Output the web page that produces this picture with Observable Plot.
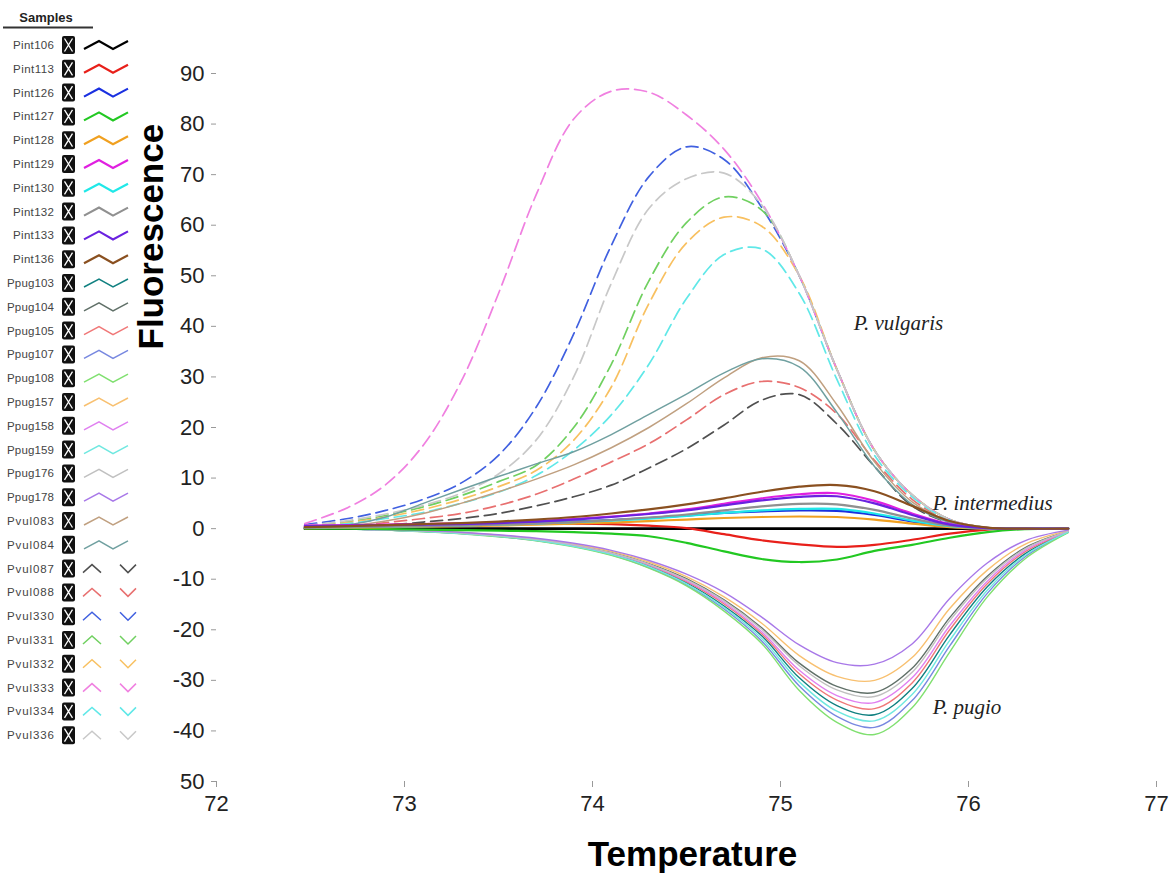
<!DOCTYPE html>
<html><head><meta charset="utf-8">
<script src="https://cdn.jsdelivr.net/npm/d3@7"></script>
<script src="https://cdn.jsdelivr.net/npm/@observablehq/plot@0.6"></script>
<style>
body{margin:0;background:#fff;}
#wrap{position:relative;width:1175px;height:874px;overflow:hidden;background:#fff;}
#legend{position:absolute;left:0;top:0;}
</style></head><body><div id="wrap"></div>
<script>
const temps = [72.47,72.7,72.9,73.1,73.3,73.5,73.7,73.9,74.1,74.3,74.5,74.7,74.9,75.1,75.3,75.5,75.7,75.9,76.1,76.3,76.53];

const samples = ["Pint106","Pint113","Pint126","Pint127","Pint128","Pint129","Pint130","Pint132","Pint133","Pint136",
  "Ppug103","Ppug104","Ppug105","Ppug107","Ppug108","Ppug157","Ppug158","Ppug159","Ppug176","Ppug178",
  "Pvul083","Pvul084","Pvul087","Pvul088","Pvul330","Pvul331","Pvul332","Pvul333","Pvul334","Pvul336"];
const colors = ["#000000","#e8201a","#1a30e0","#22c822","#f0a020","#e020e0","#20e8e8","#909090","#6a22e0","#8a5020",
  "#108080","#607068","#f07878","#7888e0","#80e070","#f8c070","#e080f0","#70e8e0","#c0c0c0","#a878e8",
  "#c0a080","#70a0a0","#505050","#e87070","#4060e0","#70d060","#f8c060","#f080e0","#60e8e8","#c8c8c8"];

// P. intermedius
const Pint106 = [0,0,0,0,0,0,0,0,0,0,0,0,0,0,0,0,0,0,0,0,0];
const Pint113 = [0.3,0.5,0.7,0.9,1.0,1.0,1.0,1.0,0.9,0.6,0.1,-1.1,-2.3,-3.1,-3.6,-3.2,-2.2,-1.0,-0.2,0,0];
const Pint126 = [0.3,0.4,0.5,0.6,0.7,0.9,1.1,1.4,1.7,2.1,2.6,3.1,3.4,3.6,3.5,2.7,1.4,0.4,0,0,0];
const Pint127 = [0,0,-0.1,-0.2,-0.3,-0.4,-0.5,-0.7,-1.0,-1.5,-2.8,-4.5,-6.0,-6.6,-6.1,-4.4,-3.2,-1.8,-0.7,-0.1,0];
const Pint128 = [0.1,0.2,0.3,0.4,0.5,0.6,0.8,1.0,1.2,1.5,1.8,2.1,2.3,2.4,2.3,1.8,1.0,0.3,0,0,0];
const Pint129 = [0.6,0.7,0.8,0.9,1.0,1.2,1.5,1.9,2.4,3.0,3.8,4.9,6.0,6.8,7.0,5.5,3.0,0.9,0.1,0,0];
const Pint130 = [0.2,0.3,0.4,0.5,0.6,0.8,1.0,1.3,1.6,2.0,2.5,3.1,3.6,3.9,3.9,3.0,1.6,0.5,0.1,0,0];
const Pint132 = [0.2,0.3,0.4,0.5,0.6,0.8,1.0,1.3,1.7,2.2,2.8,3.6,4.4,4.9,4.8,3.7,2.0,0.6,0.1,0,0];
const Pint133 = [0.5,0.6,0.7,0.8,0.9,1.1,1.4,1.8,2.3,2.9,3.6,4.6,5.6,6.3,6.4,5.0,2.7,0.8,0.1,0,0];
const Pint136 = [0.3,0.5,0.7,0.9,1.1,1.4,1.8,2.3,3.0,3.8,4.8,6.0,7.3,8.3,8.6,7.4,4.5,1.5,0.2,0,0];
// P. pugio
const Ppug103 = [0,-0.1,-0.27,-0.55,-0.9,-1.5,-2.3,-3.4,-5.0,-7.4,-10.7,-15.3,-21.2,-29.5,-35.0,-36.8,-31.6,-21.0,-11.5,-5.0,-0.65];
const Ppug104 = [0,-0.1,-0.25,-0.5,-0.8,-1.4,-2.1,-3.2,-4.7,-6.9,-9.9,-14.1,-19.6,-26.6,-31.2,-32.4,-27.6,-17.6,-9.4,-3.8,-0.5];
const Ppug105 = [0,-0.1,-0.26,-0.53,-0.9,-1.45,-2.2,-3.35,-4.9,-7.2,-10.5,-14.9,-20.8,-28.7,-33.9,-35.6,-30.5,-20.0,-10.9,-4.6,-0.6];
const Ppug107 = [0,-0.1,-0.3,-0.58,-0.97,-1.56,-2.35,-3.5,-5.2,-7.7,-11.1,-15.9,-22.2,-31.1,-37.1,-39.3,-34.0,-23.2,-12.8,-5.6,-0.75];
const Ppug108 = [0,-0.1,-0.3,-0.6,-1.0,-1.6,-2.4,-3.6,-5.3,-7.8,-11.3,-16.3,-22.7,-32.0,-38.3,-40.7,-35.4,-24.4,-13.5,-6.0,-0.8];
const Ppug157 = [0,-0.1,-0.2,-0.45,-0.77,-1.3,-2.0,-3.1,-4.5,-6.6,-9.5,-13.5,-18.7,-25.1,-29.2,-30.0,-25.5,-15.8,-8.2,-3.1,-0.4];
const Ppug158 = [0,-0.1,-0.25,-0.5,-0.85,-1.4,-2.2,-3.3,-4.9,-7.1,-10.3,-14.6,-20.4,-28.0,-33.0,-34.4,-29.5,-19.2,-10.4,-4.3,-0.6];
const Ppug159 = [0,-0.1,-0.28,-0.56,-0.95,-1.5,-2.3,-3.5,-5.1,-7.5,-10.9,-15.6,-21.7,-30.3,-36.1,-38.0,-32.8,-22.1,-12.2,-5.3,-0.7];
const Ppug176 = [0,-0.1,-0.25,-0.5,-0.85,-1.4,-2.1,-3.2,-4.8,-7.0,-10.1,-14.3,-19.9,-27.1,-31.9,-33.2,-28.4,-18.2,-9.8,-4.0,-0.5];
const Ppug178 = [0,-0.1,-0.2,-0.4,-0.7,-1.2,-1.9,-2.9,-4.3,-6.3,-9.0,-12.6,-17.5,-23.0,-26.5,-26.8,-22.8,-13.8,-6.8,-2.4,-0.3];
// P. vulgaris
const Pvul083 = [0,0.5,1.5,3.0,5.0,7.3,9.8,12.6,16.0,20.0,24.7,29.8,33.8,33.2,24.5,13.2,5.3,1.5,0.2,0,0];
const Pvul084 = [0,0.7,2.3,5.0,7.7,10.3,12.8,15.2,18.6,22.6,26.6,30.8,33.6,32.0,23.0,12.3,4.8,1.2,0.1,0,0];
const Pvul087 = [0,0.3,0.7,1.3,2.0,3.0,4.5,6.3,8.6,12.0,15.8,20.5,25.4,26.5,20.7,12.3,4.5,1.2,0.2,0,0];
const Pvul088 = [0.1,0.5,1.2,2.0,3.0,4.6,6.8,9.8,13.2,16.8,21.5,26.5,29.1,27.9,22.7,13.5,5.8,1.5,0.2,0,0];
const Pvul330 = [0.8,2.0,3.6,5.8,9.0,14.5,24.0,38.5,56.0,69.6,75.5,73.0,63.5,50.0,31.5,15.5,6.7,1.8,0.2,0,0];
const Pvul331 = [0.5,1.4,2.6,4.3,6.5,9.3,12.5,20.0,32.5,49.0,60.5,65.6,63.0,50.0,31.5,15.5,6.7,1.8,0.2,0,0];
const Pvul332 = [0.4,1.2,2.3,3.8,5.8,8.3,11.5,17.5,28.0,44.5,56.5,61.6,59.8,50.0,31.5,15.5,6.7,1.8,0.2,0,0];
const Pvul333 = [1.0,4.2,8.7,16.5,29.0,46.5,66.0,81.0,86.5,86.3,81.8,75.0,64.5,50.0,31.5,15.5,6.7,1.8,0.2,0,0];
const Pvul334 = [0.3,1.0,2.0,3.2,5.0,7.2,10.5,15.5,22.5,32.5,45.5,54.2,55.3,46.5,29.5,14.5,6.3,1.7,0.2,0,0];
const Pvul336 = [0.6,1.6,2.9,4.6,7.0,10.8,17.5,30.0,48.5,63.3,69.2,70.3,64.0,50.0,31.5,15.5,6.7,1.8,0.2,0,0];

const series = [Pint106,Pint113,Pint126,Pint127,Pint128,Pint129,Pint130,Pint132,Pint133,Pint136,
  Ppug103,Ppug104,Ppug105,Ppug107,Ppug108,Ppug157,Ppug158,Ppug159,Ppug176,Ppug178,
  Pvul083,Pvul084,Pvul087,Pvul088,Pvul330,Pvul331,Pvul332,Pvul333,Pvul334,Pvul336];

const xTicks = [72,73,74,75,76,77];
const yTicks = [90,80,70,60,50,40,30,20,10,0,-10,-20,-30,-40,-50];
const annotations = [
  {t:75.39, v:40.7, label:"P. vulgaris"},
  {t:75.81, v:5.1, label:"P. intermedius"},
  {t:75.81, v:-35.4, label:"P. pugio"}
];

const rows = [];
samples.forEach((s,i) => series[i].forEach((v,j) => rows.push({sample:s, t:temps[j], v})));
const dashed = new Set(["Pvul087","Pvul088","Pvul330","Pvul331","Pvul332","Pvul333","Pvul334","Pvul336"]);
const grp = s => s === "Pint106" ? "base" : s.startsWith("Pint") ? "pint" : s.startsWith("Ppug") ? "ppug" : dashed.has(s) ? "pvulD" : "pvulS";
const sel = g => rows.filter(r => grp(r.sample) === g);
const lineOpts = {x:"t", y:"v", z:"sample", stroke:"sample", curve:"catmull-rom"};

const chart = Plot.plot({
  width:1175, height:874,
  marginLeft:216, marginRight:19, marginTop:73, marginBottom:93,
  style:{fontFamily:"'Liberation Sans', Arial, sans-serif", background:"#fff"},
  x:{domain:[72,77]},
  y:{domain:[-50,90]},
  color:{domain:samples, range:colors},
  marks:[
    Plot.line(sel("pvulD"), {...lineOpts, strokeWidth:1.7, strokeDasharray:"12,6"}),
    Plot.line(sel("pvulS"), {...lineOpts, strokeWidth:1.5}),
    Plot.line(sel("ppug"), {...lineOpts, strokeWidth:1.4}),
    Plot.line(sel("base"), {...lineOpts, strokeWidth:2.6}),
    Plot.line(sel("pint"), {...lineOpts, strokeWidth:2.2}),
    Plot.axisY({ticks:yTicks, tickFormat:d => d === -50 ? "50" : String(d), tickSize:5, tickPadding:7,
      fontSize:22, label:null, stroke:"#999", fill:"#222"}),
    Plot.axisX({ticks:xTicks, tickFormat:d => String(d), tickSize:6, tickPadding:8,
      fontSize:22, label:null, stroke:"#999", fill:"#222"}),
    Plot.text(["Fluorescence"], {frameAnchor:"left", dx:-65, dy:-78, rotate:-90, fontSize:35, fontWeight:"bold", fill:"#000"}),
    Plot.text(["Temperature"], {frameAnchor:"bottom", dx:6, dy:84, lineAnchor:"bottom", fontSize:35, fontWeight:"bold", fill:"#000"}),
    Plot.text(annotations, {x:"t", y:"v", text:"label", textAnchor:"start", fontFamily:"'Liberation Serif', 'Times New Roman', serif",
      fontStyle:"italic", fontSize:21, fill:"#222"})
  ]
});
document.getElementById("wrap").appendChild(chart);

// Legend
const leg = d3.select("#wrap").append("svg").attr("id","legend").attr("width",140).attr("height",760)
  .style("font-family","'Liberation Sans', Arial, sans-serif");
leg.append("text").attr("x",46).attr("y",22).attr("text-anchor","middle").attr("font-weight","bold")
  .attr("font-size",13).attr("fill","#222").text("Samples");
leg.append("line").attr("x1",3).attr("x2",93).attr("y1",27.5).attr("y2",27.5).attr("stroke","#333").attr("stroke-width",2);
samples.forEach((s,i) => {
  const y = 45 + i*23.8;
  const g = grp(s);
  leg.append("text").attr("x",54).attr("y",y+4).attr("text-anchor","end").attr("font-size",11.5)
    .attr("fill","#444").attr("textLength", s.startsWith("Pint") ? 41 : 47).text(s);
  leg.append("rect").attr("x",62).attr("y",y-9).attr("width",13).attr("height",18).attr("rx",2).attr("fill","#111");
  leg.append("path").attr("d",`M64.5,${y-6.5}L72.5,${y+6.5}M72.5,${y-6.5}L64.5,${y+6.5}`).attr("stroke","#fff").attr("stroke-width",1.3);
  const c = colors[i];
  const w = (g === "pint" || g === "base") ? 2.2 : 1.5;
  if (g === "pvulD") {
    leg.append("path").attr("d",`M83,${y+4}L92,${y-4}L101,${y+4}M120,${y-4}L128,${y+4}L136,${y-4}`)
      .attr("fill","none").attr("stroke",c).attr("stroke-width",w);
  } else {
    leg.append("path").attr("d",`M84,${y+4}L99,${y-4}L113,${y+4}L128,${y-4}`)
      .attr("fill","none").attr("stroke",c).attr("stroke-width",w);
  }
});
</script></body></html>
